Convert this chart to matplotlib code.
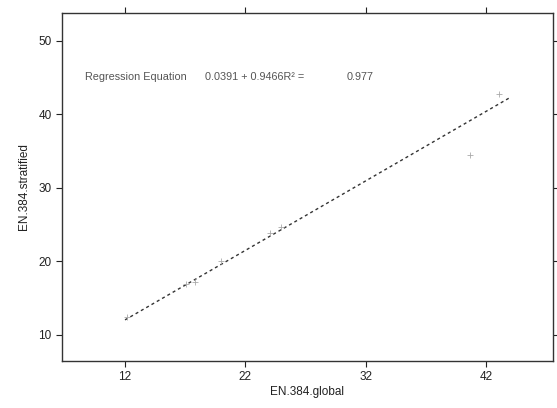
import matplotlib
matplotlib.use("Agg")
import matplotlib.pyplot as plt

plt.rcParams['font.family'] = ['Liberation Sans', 'DejaVu Sans']

# data
pts_x = [12.2, 17.1, 17.8, 20.0, 24.05, 25.0, 40.7, 43.1]
pts_y = [12.4, 17.0, 17.25, 20.0, 23.9, 24.7, 34.5, 42.85]
line_x = [12.0, 44.1]
line_y = [12.05, 42.4]
x_ticks = [12, 22, 32, 42]
y_ticks = [10, 20, 30, 40, 50]
eq_label = "Regression Equation"
eq_formula = "0.0391 + 0.9466R\u00b2 ="
eq_r2 = "0.977"

fig = plt.figure(figsize=(5.57, 4.08), dpi=100)
ax = fig.add_axes([0.1113, 0.116, 0.8815, 0.852])

ax.plot(line_x, line_y, linestyle=(0, (2.2, 2.2)), color='#333333', linewidth=1.0)
ax.scatter(pts_x, pts_y, marker='+', s=18, color='#aaaaaa', linewidths=0.6, zorder=3)

ax.set_xlim(6.76, 47.57)
ax.set_ylim(6.5, 53.8)
ax.set_xticks(x_ticks)
ax.set_yticks(y_ticks)
ax.tick_params(direction='out', length=4, width=0.8, labelsize=8.5, colors='#222222',
               top=True, right=True, labeltop=False, labelright=False)
for s in ax.spines.values():
    s.set_linewidth(1.0)
    s.set_color('#333333')

ax.set_xlabel("EN.384.global", fontsize=8.5, color='#222222', labelpad=2)
ax.set_ylabel("EN.384.stratified", fontsize=8.5, color='#222222', labelpad=6)

ax.text(8.67, 45.06, eq_label, fontsize=7.8, color='#555555', va='center', ha='left')
ax.text(18.65, 45.06, eq_formula, fontsize=7.8, color='#555555', va='center', ha='left')
ax.text(30.45, 45.06, eq_r2, fontsize=7.8, color='#555555', va='center', ha='left')

fig.savefig("out.png", dpi=100)
